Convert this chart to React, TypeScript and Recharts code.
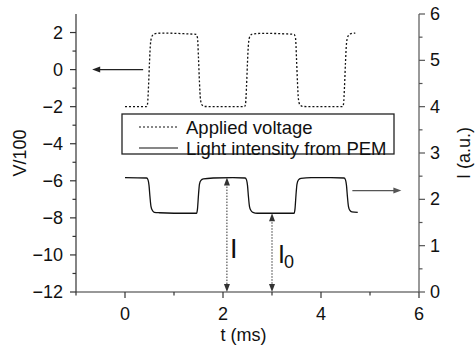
import { ComposedChart, Line, XAxis, YAxis, ReferenceLine } from 'recharts'

// applied voltage (V/100), left axis
const voltageT = [0, 0.44, 0.46, 0.48, 0.5, 0.52, 0.55, 0.6, 0.75, 1.0, 1.25, 1.45, 1.48, 1.5, 1.52, 1.54, 1.57, 1.63, 2.0,
  2.44, 2.46, 2.48, 2.5, 2.52, 2.55, 2.6, 2.75, 3.0, 3.25, 3.45, 3.48, 3.5, 3.52, 3.54, 3.57, 3.63, 4.0,
  4.44, 4.46, 4.48, 4.5, 4.52, 4.55, 4.6, 4.7]
const voltageV = [-2, -2, -1.85, -0.9, 0.4, 1.4, 1.8, 1.93, 1.97, 1.96, 1.93, 1.9, 1.7, 0.6, -0.7, -1.6, -1.9, -1.99, -2,
  -2, -1.85, -0.9, 0.4, 1.4, 1.8, 1.92, 1.95, 1.95, 1.93, 1.9, 1.7, 0.6, -0.7, -1.6, -1.9, -1.99, -2,
  -2, -1.85, -0.9, 0.4, 1.4, 1.8, 1.93, 1.97]

// light intensity (a.u.), right axis
const intensityT = [0, 0.44, 0.47, 0.49, 0.51, 0.53, 0.56, 0.6, 0.7, 1.0,
  1.46, 1.48, 1.5, 1.52, 1.55, 1.6, 1.8, 2.2,
  2.45, 2.48, 2.5, 2.52, 2.54, 2.57, 2.61, 2.7, 3.0,
  3.45, 3.47, 3.49, 3.51, 3.54, 3.59, 3.8, 4.2,
  4.47, 4.5, 4.52, 4.54, 4.56, 4.59, 4.63, 4.75]
const intensityI = [2.47, 2.46, 2.42, 2.3, 2.05, 1.85, 1.76, 1.72, 1.71, 1.7,
  1.7, 1.8, 2.1, 2.33, 2.41, 2.44, 2.46, 2.47,
  2.46, 2.42, 2.3, 2.05, 1.85, 1.76, 1.72, 1.7, 1.7,
  1.7, 1.8, 2.1, 2.33, 2.42, 2.45, 2.47, 2.47,
  2.46, 2.42, 2.3, 2.05, 1.85, 1.76, 1.73, 1.72]

const seriesNames = ['Applied voltage', 'Light intensity from PEM']
const seriesDash = ['2 2', undefined]

const xMajor = [0, 2, 4, 6]
const xMinor = [-1, 1, 3, 5]
const vMajor = [-12, -10, -8, -6, -4, -2, 0, 2]
const vMinor = [-11, -9, -7, -5, -3, -1, 1]
const iMajor = [0, 1, 2, 3, 4, 5, 6]
const iMinor = [0.5, 1.5, 2.5, 3.5, 4.5, 5.5]

// arrows: I and I0 measured from zero, pointer arrows to each axis
const iArrow = { t: 2.08, top: 2.47 }
const i0Arrow = { t: 3.0, top: 1.7 }
const leftPointer = { from: 0.37, to: -0.67, level: 0 }
const rightPointer = { from: 4.64, to: 5.64, level: 2.19 }

const voltageData = voltageT.map((t, i) => ({ t, v: voltageV[i] }))
const intensityData = intensityT.map((t, i) => ({ t, v: intensityI[i] }))

const FONT = '"Liberation Sans", Arial, Helvetica, sans-serif'
const INK = '#111'

const minus = (n: number) => String(n).replace('-', '\u2212')

function AxisTick({ x, y, payload, side, major, color }: any) {
  const val = payload.value
  const isMajor = major.includes(val)
  const len = isMajor ? 6 : 3.5
  const stroke = color || '#333'
  if (side === 'bottom') {
    return (
      <g>
        <line x1={x} y1={y} x2={x} y2={y + len} stroke={stroke} strokeWidth={1.2} />
        {isMajor && (
          <text x={x} y={y + 22} textAnchor="middle" dominantBaseline="central" fontSize={18} fill={INK} fontFamily={FONT}>
            {minus(val)}
          </text>
        )}
      </g>
    )
  }
  if (side === 'top') {
    return <line x1={x} y1={y} x2={x} y2={y + 5} stroke={stroke} strokeWidth={1.2} />
  }
  if (side === 'left') {
    return (
      <g>
        <line x1={x - len} y1={y} x2={x} y2={y} stroke={stroke} strokeWidth={1.2} />
        {isMajor && (
          <text x={x - 13} y={y} textAnchor="end" dominantBaseline="central" fontSize={18} fill={INK} fontFamily={FONT}>
            {minus(val)}
          </text>
        )}
      </g>
    )
  }
  return (
    <g>
      <line x1={x} y1={y} x2={x + len} y2={y} stroke={stroke} strokeWidth={1.2} />
      {isMajor && (
        <text x={x + 11} y={y} textAnchor="start" dominantBaseline="central" fontSize={18} fill={INK} fontFamily={FONT}>
          {minus(val)}
        </text>
      )}
    </g>
  )
}

function head(x: number, y: number, dx: number, dy: number, color: string) {
  const L = 8
  const W = 3
  const bx = x - dx * L
  const by = y - dy * L
  return <polygon points={`${x},${y} ${bx - dy * W},${by + dx * W} ${bx + dy * W},${by - dx * W}`} fill={color} />
}

const pointerShape = (color: string) => (p: any) => {
  const dir = p.x2 > p.x1 ? 1 : -1
  return (
    <g>
      <line x1={p.x1} y1={p.y1} x2={p.x2 - dir * 6} y2={p.y2} stroke={color} strokeWidth={1.2} />
      {head(p.x2, p.y2, dir, 0, color)}
    </g>
  )
}

const spanShape = (label: string, sub?: string) => (p: any) => {
  const top = Math.min(p.y1, p.y2)
  const bottom = Math.max(p.y1, p.y2)
  return (
    <g>
      <line x1={p.x1} y1={top + 6} x2={p.x1} y2={bottom - 6} stroke="#333" strokeWidth={1} strokeDasharray="1.5 1.5" />
      {head(p.x1, top, 0, -1, '#333')}
      {head(p.x1, bottom, 0, 1, '#333')}
      <text x={p.x1 + (sub ? 6 : 3)} y={bottom - (sub ? 29 : 34)} fontSize={sub ? 25 : 27} fill={INK} fontFamily={FONT}>
        {label}
      </text>
      {sub && (
        <text x={p.x1 + 12} y={bottom - 24} fontSize={18} fill={INK} fontFamily={FONT}>
          {sub}
        </text>
      )}
    </g>
  )
}

// legend frame drawn over the plot, entries come from the series names
function LegendBox() {
  return (
    <svg width={276} height={44} style={{ position: 'absolute', left: 121, top: 113, overflow: 'visible' }}>
      <rect x={1} y={1} width={272} height={40} fill="#fff" stroke="#222" strokeWidth={1.3} />
      {seriesNames.map((name, i) => (
        <g key={name}>
          <line x1={18} y1={14 + i * 21} x2={57} y2={14 + i * 21} stroke={INK} strokeWidth={1.2} strokeDasharray={seriesDash[i]} />
          <text x={65} y={14 + i * 21} dominantBaseline="central" fontSize={18.5} fill={INK} fontFamily={FONT}>
            {name}
          </text>
        </g>
      ))}
    </svg>
  )
}

export default function App() {
  return (
    <div style={{ position: 'absolute', left: 0, top: 0, width: 475, height: 357, background: '#fff' }}>
      <ComposedChart width={475} height={357} margin={{ top: 14, right: 0, left: 0, bottom: 0 }}>
        <XAxis
          xAxisId="t"
          dataKey="t"
          type="number"
          domain={[-1, 6]}
          ticks={[...xMajor, ...xMinor].sort((a, b) => a - b)}
          interval={0}
          height={65}
          tickSize={0}
          tickMargin={0}
          tickLine={false}
          stroke="#333"
          strokeWidth={1.2}
          allowDataOverflow
          tick={(p: any) => <AxisTick {...p} side="bottom" major={xMajor} />}
          label={{
            content: ({ viewBox }: any) => (
              <text x={viewBox.x + viewBox.width / 2 - 4} y={viewBox.y + 43} textAnchor="middle" dominantBaseline="central" fontSize={18} fill={INK} fontFamily={FONT}>
                t (ms)
              </text>
            ),
          }}
        />
        <XAxis
          xAxisId="top"
          orientation="top"
          type="number"
          domain={[-1, 6]}
          ticks={[-1, 0, 1, 2, 3, 4, 5, 6]}
          interval={0}
          height={0}
          tickSize={0}
          tickMargin={0}
          tickLine={false}
          stroke="#333"
          strokeWidth={1.2}
          tick={(p: any) => <AxisTick {...p} side="top" major={[]} />}
        />
        <YAxis
          yAxisId="left"
          type="number"
          domain={[-12, 3]}
          ticks={[...vMajor, ...vMinor].sort((a, b) => a - b)}
          interval={0}
          width={76}
          tickSize={0}
          tickMargin={0}
          tickLine={false}
          stroke="#333"
          strokeWidth={1.2}
          allowDataOverflow
          tick={(p: any) => <AxisTick {...p} side="left" major={vMajor} />}
          label={{
            content: ({ viewBox }: any) => (
              <text
                x={viewBox.x + 20}
                y={viewBox.y + viewBox.height / 2}
                transform={`rotate(-90, ${viewBox.x + 20}, ${viewBox.y + viewBox.height / 2})`}
                textAnchor="middle"
                dominantBaseline="central"
                fontSize={18}
                fill={INK}
                fontFamily={FONT}
              >
                V/100
              </text>
            ),
          }}
        />
        <YAxis
          yAxisId="right"
          orientation="right"
          type="number"
          domain={[0, 6]}
          ticks={[...iMajor, ...iMinor].sort((a, b) => a - b)}
          interval={0}
          width={56}
          tickSize={0}
          tickMargin={0}
          tickLine={false}
          stroke="#555"
          strokeWidth={1.2}
          allowDataOverflow
          tick={(p: any) => <AxisTick {...p} side="right" major={iMajor} color="#555" />}
          label={{
            content: ({ viewBox }: any) => (
              <text
                x={viewBox.x + 45}
                y={viewBox.y + viewBox.height / 2}
                transform={`rotate(-90, ${viewBox.x + 45}, ${viewBox.y + viewBox.height / 2})`}
                textAnchor="middle"
                dominantBaseline="central"
                fontSize={18}
                fill={INK}
                fontFamily={FONT}
              >
                I (a.u.)
              </text>
            ),
          }}
        />
        <Line
          name={seriesNames[0]}
          data={voltageData}
          dataKey="v"
          xAxisId="t"
          yAxisId="left"
          type="monotone"
          stroke={INK}
          strokeWidth={1.3}
          strokeDasharray={seriesDash[0]}
          dot={false}
          activeDot={false}
          isAnimationActive={false}
        />
        <Line
          name={seriesNames[1]}
          data={intensityData}
          dataKey="v"
          xAxisId="t"
          yAxisId="right"
          type="monotone"
          stroke={INK}
          strokeWidth={1.3}
          dot={false}
          activeDot={false}
          isAnimationActive={false}
        />
        <ReferenceLine
          xAxisId="t"
          yAxisId="left"
          segment={[{ x: leftPointer.from, y: leftPointer.level }, { x: leftPointer.to, y: leftPointer.level }]}
          shape={pointerShape('#222')}
        />
        <ReferenceLine
          xAxisId="t"
          yAxisId="right"
          segment={[{ x: rightPointer.from, y: rightPointer.level }, { x: rightPointer.to, y: rightPointer.level }]}
          shape={pointerShape('#555')}
        />
        <ReferenceLine
          xAxisId="t"
          yAxisId="right"
          segment={[{ x: iArrow.t, y: 0 }, { x: iArrow.t, y: iArrow.top }]}
          shape={spanShape('I')}
        />
        <ReferenceLine
          xAxisId="t"
          yAxisId="right"
          segment={[{ x: i0Arrow.t, y: 0 }, { x: i0Arrow.t, y: i0Arrow.top }]}
          shape={spanShape('I', '0')}
        />
      </ComposedChart>
      <LegendBox />
    </div>
  )
}
